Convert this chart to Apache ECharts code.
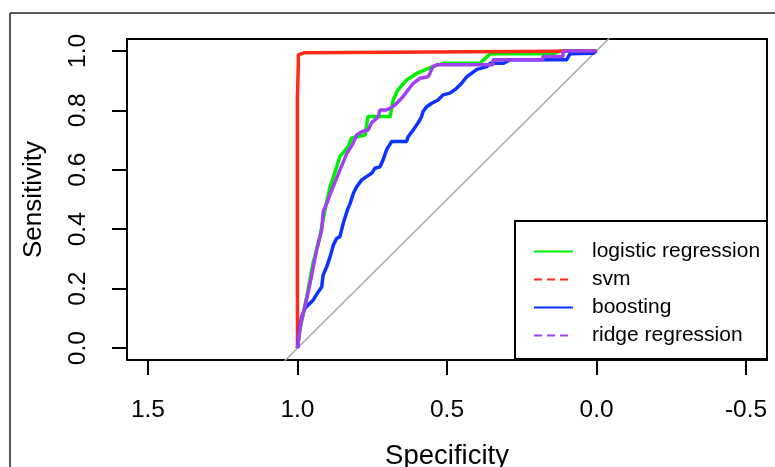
<!DOCTYPE html>
<html>
<head>
<meta charset="utf-8">
<script src="https://cdn.jsdelivr.net/npm/echarts@6/dist/echarts.min.js"></script>
<style>
  html, body { margin: 0; padding: 0; background: #fff; }
  #main { width: 775px; height: 467px; }
</style>
</head>
<body>
<div id="main"></div>
<script>
// ROC curves: specificity (x, reversed) vs sensitivity (y)
const seriesNames = ['logistic regression', 'svm', 'boosting', 'ridge regression'];
const xTicks = [1.5, 1.0, 0.5, 0.0, -0.5];
const yTicks = [0.0, 0.2, 0.4, 0.6, 0.8, 1.0];

const logisticSpec = [1, 0.992, 0.969, 0.948, 0.925, 0.908, 0.891, 0.881, 0.858, 0.831, 0.819, 0.774, 0.764, 0.69, 0.68, 0.664, 0.635, 0.60, 0.547, 0.513, 0.39, 0.39, 0.356, 0.146, 0.12, 0];
const logisticSens = [0, 0.061, 0.173, 0.286, 0.375, 0.465, 0.543, 0.572, 0.644, 0.678, 0.707, 0.717, 0.779, 0.779, 0.835, 0.869, 0.902, 0.925, 0.947, 0.958, 0.958, 0.964, 0.99, 0.99, 1.0, 1.0];

const svmSpec = [1, 1, 0.997, 0.997, 0.975, 0.969, 0];
const svmSens = [0, 0.85, 0.96, 0.987, 0.994, 1.0, 1.0];

const boostSpec = [1, 0.992, 0.986, 0.975, 0.964, 0.947, 0.930, 0.919, 0.914, 0.902, 0.891, 0.88, 0.869, 0.858, 0.847, 0.835, 0.824, 0.813, 0.802, 0.785, 0.769, 0.752, 0.741, 0.724, 0.714, 0.702, 0.696, 0.685, 0.635, 0.63, 0.613, 0.597, 0.585, 0.58, 0.568, 0.551, 0.53, 0.513, 0.49, 0.468, 0.451, 0.434, 0.417, 0.40, 0.367, 0.356, 0.312, 0.289, 0.167, 0.10, 0.089, 0.011, 0];
const boostSens = [0, 0.072, 0.105, 0.134, 0.145, 0.162, 0.19, 0.206, 0.246, 0.274, 0.307, 0.347, 0.369, 0.375, 0.42, 0.459, 0.487, 0.521, 0.543, 0.566, 0.577, 0.588, 0.605, 0.61, 0.633, 0.667, 0.678, 0.695, 0.695, 0.711, 0.734, 0.757, 0.779, 0.796, 0.812, 0.824, 0.835, 0.852, 0.858, 0.874, 0.891, 0.913, 0.925, 0.938, 0.947, 0.958, 0.958, 0.97, 0.97, 0.97, 0.99, 0.992, 1.0];

const ridgeSpec = [1, 0.989, 0.975, 0.958, 0.936, 0.919, 0.914, 0.902, 0.881, 0.858, 0.835, 0.814, 0.802, 0.785, 0.764, 0.752, 0.73, 0.724, 0.702, 0.69, 0.674, 0.647, 0.63, 0.613, 0.59, 0.563, 0.557, 0.547, 0.534, 0.346, 0.346, 0.179, 0.179, 0.112, 0.112, 0];
const ridgeSens = [0, 0.084, 0.139, 0.218, 0.33, 0.397, 0.459, 0.487, 0.543, 0.599, 0.655, 0.689, 0.717, 0.728, 0.734, 0.758, 0.778, 0.801, 0.801, 0.808, 0.818, 0.846, 0.869, 0.891, 0.908, 0.913, 0.925, 0.947, 0.953, 0.953, 0.97, 0.97, 0.981, 0.981, 1.0, 1.0];

// chance diagonal endpoints (clipped by the plot box)
const diagSpec = [1.2, -0.2];
const diagSens = [-0.2, 1.2];

const colors = ['#00ee00', '#ff2a1a', '#0a33ff', '#a040f0'];

function pairs(xs, ys) {
  return xs.map((x, i) => [x, ys[i]]);
}

const chart = echarts.init(document.getElementById('main'));
const font = "'Liberation Sans', Arial, Helvetica, sans-serif";

const curves = [
  pairs(logisticSpec, logisticSens),
  pairs(svmSpec, svmSens),
  pairs(boostSpec, boostSens),
  pairs(ridgeSpec, ridgeSens)
];

const option = {
  animation: false,
  textStyle: { fontFamily: font, color: '#000' },
  grid: {
    left: 127, right: 8, top: 39, bottom: 107,
    outerBoundsMode: 'none',
    containLabel: false,
    show: true, borderColor: '#000', borderWidth: 2, backgroundColor: 'transparent'
  },
  xAxis: {
    type: 'value',
    inverse: true,
    min: -0.57, max: 1.57,
    name: 'Specificity',
    nameLocation: 'middle',
    nameGap: 82,
    nameTextStyle: { fontSize: 27.5, color: '#000', fontFamily: font },
    axisLine: { show: false, onZero: false },
    splitLine: { show: false },
    axisTick: { show: true, inside: false, length: 15, lineStyle: { color: '#000', width: 2 }, customValues: xTicks },
    axisLabel: {
      fontSize: 24.5, color: '#000', margin: 38, fontFamily: font,
      customValues: xTicks,
      formatter: v => v.toFixed(1)
    }
  },
  yAxis: {
    type: 'value',
    min: -0.04, max: 1.04,
    name: 'Sensitivity',
    nameLocation: 'middle',
    nameGap: 80,
    nameTextStyle: { fontSize: 26, color: '#000', fontFamily: font },
    axisLine: { show: false, onZero: false },
    splitLine: { show: false },
    axisTick: { show: true, inside: false, length: 15, lineStyle: { color: '#000', width: 2 }, customValues: yTicks },
    axisLabel: {
      fontSize: 24.5, color: '#000', margin: 36, rotate: 90, fontFamily: font,
      customValues: yTicks,
      formatter: v => v.toFixed(1)
    }
  },
  legend: {
    orient: 'vertical',
    left: 533, top: 241,
    padding: 0,
    itemWidth: 39, itemHeight: 21, itemGap: 7,
    z: 10,
    itemStyle: { color: 'transparent', borderWidth: 0, opacity: 0 },
    textStyle: { fontSize: 21, lineHeight: 21, color: '#000', fontFamily: font, padding: [0, 0, 0, 14] },
    data: [
      { name: seriesNames[0], lineStyle: { width: 2, type: 'solid', opacity: 1 } },
      { name: seriesNames[1], lineStyle: { width: 2, type: [8, 5], opacity: 1 } },
      { name: seriesNames[2], lineStyle: { width: 2, type: 'solid', opacity: 1 } },
      { name: seriesNames[3], lineStyle: { width: 2, type: [8, 5], opacity: 1 } }
    ]
  },
  graphic: [
    { type: 'line', shape: { x1: 10, y1: 13, x2: 775, y2: 13 }, style: { stroke: '#222', lineWidth: 1.5 }, silent: true },
    { type: 'line', shape: { x1: 10, y1: 13, x2: 10, y2: 467 }, style: { stroke: '#222', lineWidth: 1.5 }, silent: true },
    { type: 'rect', z: 5, shape: { x: 515, y: 221, width: 252, height: 138 }, style: { fill: '#fff', stroke: '#000', lineWidth: 2 }, silent: true }
  ],
  series: [
    {
      name: 'diagonal', type: 'line', data: pairs(diagSpec, diagSens),
      showSymbol: false, symbol: 'none', clip: true, silent: true,
      lineStyle: { color: '#aaaaaa', width: 1.5 }, z: 1
    }
  ].concat(seriesNames.map((name, i) => ({
    name: name,
    type: 'line',
    data: curves[i],
    symbol: 'none',
    showSymbol: false,
    clip: true,
    color: colors[i],
    lineStyle: { color: colors[i], width: 3.5 },
    z: 2 + i
  })))
};

chart.setOption(option);
window.addEventListener('resize', function () {
  chart.resize();
});
</script>
</body>
</html>
